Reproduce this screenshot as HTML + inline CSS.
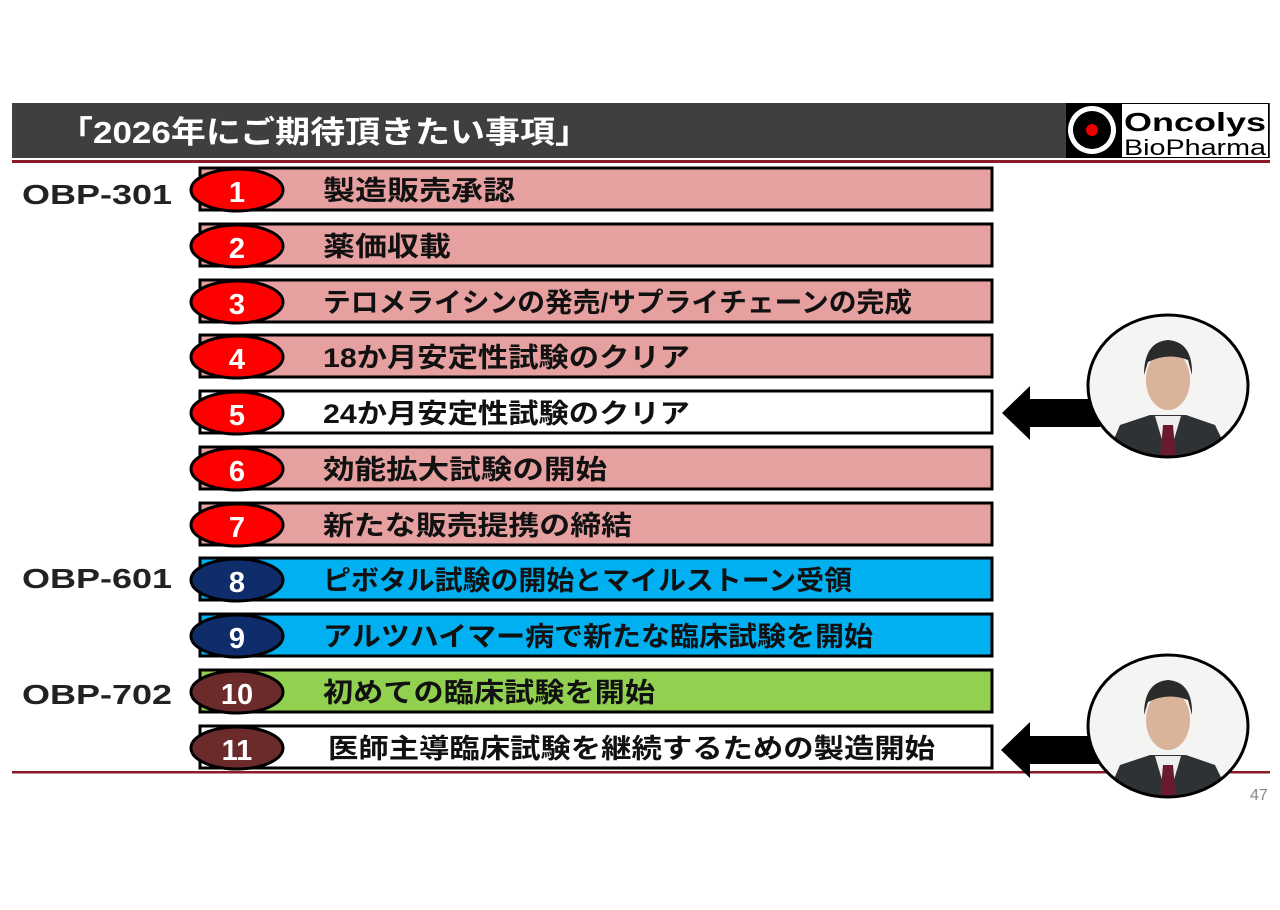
<!DOCTYPE html>
<html><head><meta charset="utf-8"><style>
body{margin:0;background:#fff;}
svg text{font-family:"Liberation Sans","Noto Sans CJK JP",sans-serif;font-weight:bold;}
svg text.n{font-weight:normal;}
</style></head><body>
<svg width="1280" height="905" viewBox="0 0 1280 905" xmlns="http://www.w3.org/2000/svg">
<rect x="12" y="103" width="1258" height="55" fill="#3f3f3f"/>
<text x="58" y="143" font-size="31" fill="#fff" textLength="532" lengthAdjust="spacingAndGlyphs">「2026年にご期待頂きたい事項」</text>
<rect x="1066" y="103" width="203" height="55" fill="#000"/>
<circle cx="1092" cy="130" r="24" fill="#fff"/><circle cx="1092" cy="130" r="19" fill="#000"/><circle cx="1092" cy="130" r="6" fill="#e00"/>
<rect x="1122" y="104" width="146" height="53" fill="#fff"/>
<text x="1124" y="131" font-size="26" fill="#000" font-family="DejaVu Sans" textLength="142" lengthAdjust="spacingAndGlyphs">Oncolys</text>
<text x="1124" y="155" font-size="22" fill="#000" class="n" font-family="DejaVu Sans" textLength="142" lengthAdjust="spacingAndGlyphs">BioPharma</text>
<rect x="12" y="160" width="1258" height="3" fill="#8b1a2a"/>
<rect x="12" y="771" width="1258" height="2.5" fill="#8b1a2a"/>
<text x="1250" y="800" font-size="16" fill="#888" class="n">47</text>
<g font-size="28" fill="#222">
<text x="22" y="204" textLength="150" lengthAdjust="spacingAndGlyphs">OBP-301</text>
<text x="22" y="588" textLength="150" lengthAdjust="spacingAndGlyphs">OBP-601</text>
<text x="22" y="704" textLength="150" lengthAdjust="spacingAndGlyphs">OBP-702</text>
</g>
<g stroke="#000" stroke-width="3">
<rect x="200" y="168" width="792" height="42" fill="#e6a0a0"/>
<rect x="200" y="224" width="792" height="42" fill="#e6a0a0"/>
<rect x="200" y="280" width="792" height="42" fill="#e6a0a0"/>
<rect x="200" y="335" width="792" height="42" fill="#e6a0a0"/>
<rect x="200" y="391" width="792" height="42" fill="#fff"/>
<rect x="200" y="447" width="792" height="42" fill="#e6a0a0"/>
<rect x="200" y="503" width="792" height="42" fill="#e6a0a0"/>
<rect x="200" y="558" width="792" height="42" fill="#00b0f0"/>
<rect x="200" y="614" width="792" height="42" fill="#00b0f0"/>
<rect x="200" y="670" width="792" height="42" fill="#92d050"/>
<rect x="200" y="726" width="792" height="42" fill="#fff"/>
<ellipse cx="237" cy="190" rx="46" ry="21" fill="#f00"/>
<ellipse cx="237" cy="246" rx="46" ry="21" fill="#f00"/>
<ellipse cx="237" cy="302" rx="46" ry="21" fill="#f00"/>
<ellipse cx="237" cy="357" rx="46" ry="21" fill="#f00"/>
<ellipse cx="237" cy="413" rx="46" ry="21" fill="#f00"/>
<ellipse cx="237" cy="469" rx="46" ry="21" fill="#f00"/>
<ellipse cx="237" cy="525" rx="46" ry="21" fill="#f00"/>
<ellipse cx="237" cy="580" rx="46" ry="21" fill="#0f2d6b"/>
<ellipse cx="237" cy="636" rx="46" ry="21" fill="#0f2d6b"/>
<ellipse cx="237" cy="692" rx="46" ry="21" fill="#6b2b2b"/>
<ellipse cx="237" cy="748" rx="46" ry="21" fill="#6b2b2b"/>
</g>
<g font-size="29" fill="#fff" text-anchor="middle">
<text x="237" y="202">1</text><text x="237" y="258">2</text><text x="237" y="314">3</text>
<text x="237" y="369">4</text><text x="237" y="425">5</text><text x="237" y="481">6</text>
<text x="237" y="537">7</text><text x="237" y="592">8</text><text x="237" y="648">9</text>
<text x="237" y="704">10</text><text x="237" y="760">11</text>
</g>
<g font-size="27" fill="#111">
<text x="323" y="200" textLength="192" lengthAdjust="spacingAndGlyphs">製造販売承認</text>
<text x="323" y="256" textLength="128" lengthAdjust="spacingAndGlyphs">薬価収載</text>
<text x="323" y="312" textLength="589" lengthAdjust="spacingAndGlyphs">テロメライシンの発売/サプライチェーンの完成</text>
<text x="323" y="367" textLength="367" lengthAdjust="spacingAndGlyphs">18か月安定性試験のクリア</text>
<text x="323" y="423" textLength="367" lengthAdjust="spacingAndGlyphs">24か月安定性試験のクリア</text>
<text x="323" y="479" textLength="284" lengthAdjust="spacingAndGlyphs">効能拡大試験の開始</text>
<text x="323" y="535" textLength="309" lengthAdjust="spacingAndGlyphs">新たな販売提携の締結</text>
<text x="323" y="590" textLength="529" lengthAdjust="spacingAndGlyphs">ピボタル試験の開始とマイルストーン受領</text>
<text x="323" y="646" textLength="550" lengthAdjust="spacingAndGlyphs">アルツハイマー病で新たな臨床試験を開始</text>
<text x="323" y="702" textLength="332" lengthAdjust="spacingAndGlyphs">初めての臨床試験を開始</text>
<text x="328" y="758" textLength="607" lengthAdjust="spacingAndGlyphs">医師主導臨床試験を継続するための製造開始</text>
</g>
<polygon points="1002,413 1030,386 1030,399 1100,399 1100,427 1030,427 1030,440" fill="#000"/>
<polygon points="1001,750 1030,722 1030,736 1100,736 1100,764 1030,764 1030,778" fill="#000"/>
<g>
<clipPath id="c1"><ellipse cx="1168" cy="386" rx="80" ry="71"/></clipPath>
<ellipse cx="1168" cy="386" rx="80" ry="71" fill="#f4f4f2"/>
<g clip-path="url(#c1)">
<path d="M1105,460 L1120,425 L1150,415 L1186,415 L1215,425 L1232,460Z" fill="#2f3235"/>
<path d="M1155,416 L1168,460 L1181,416Z" fill="#eee"/>
<path d="M1163,425 L1173,425 L1176,460 L1160,460Z" fill="#6a1a30"/>
<ellipse cx="1168" cy="380" rx="22" ry="30" fill="#d9b49a"/>
<path d="M1144,375 Q1144,342 1168,340 Q1193,342 1192,375 L1188,360 Q1168,352 1148,362Z" fill="#2a2a2a"/>
</g>
<ellipse cx="1168" cy="386" rx="80" ry="71" fill="none" stroke="#000" stroke-width="3"/>
</g>
<g transform="translate(0,340)">
<clipPath id="c2"><ellipse cx="1168" cy="386" rx="80" ry="71"/></clipPath>
<ellipse cx="1168" cy="386" rx="80" ry="71" fill="#f4f4f2"/>
<g clip-path="url(#c2)">
<path d="M1105,460 L1120,425 L1150,415 L1186,415 L1215,425 L1232,460Z" fill="#2f3235"/>
<path d="M1155,416 L1168,460 L1181,416Z" fill="#eee"/>
<path d="M1163,425 L1173,425 L1176,460 L1160,460Z" fill="#6a1a30"/>
<ellipse cx="1168" cy="380" rx="22" ry="30" fill="#d9b49a"/>
<path d="M1144,375 Q1144,342 1168,340 Q1193,342 1192,375 L1188,360 Q1168,352 1148,362Z" fill="#2a2a2a"/>
</g>
<ellipse cx="1168" cy="386" rx="80" ry="71" fill="none" stroke="#000" stroke-width="3"/>
</g>
</svg>
</body></html>
